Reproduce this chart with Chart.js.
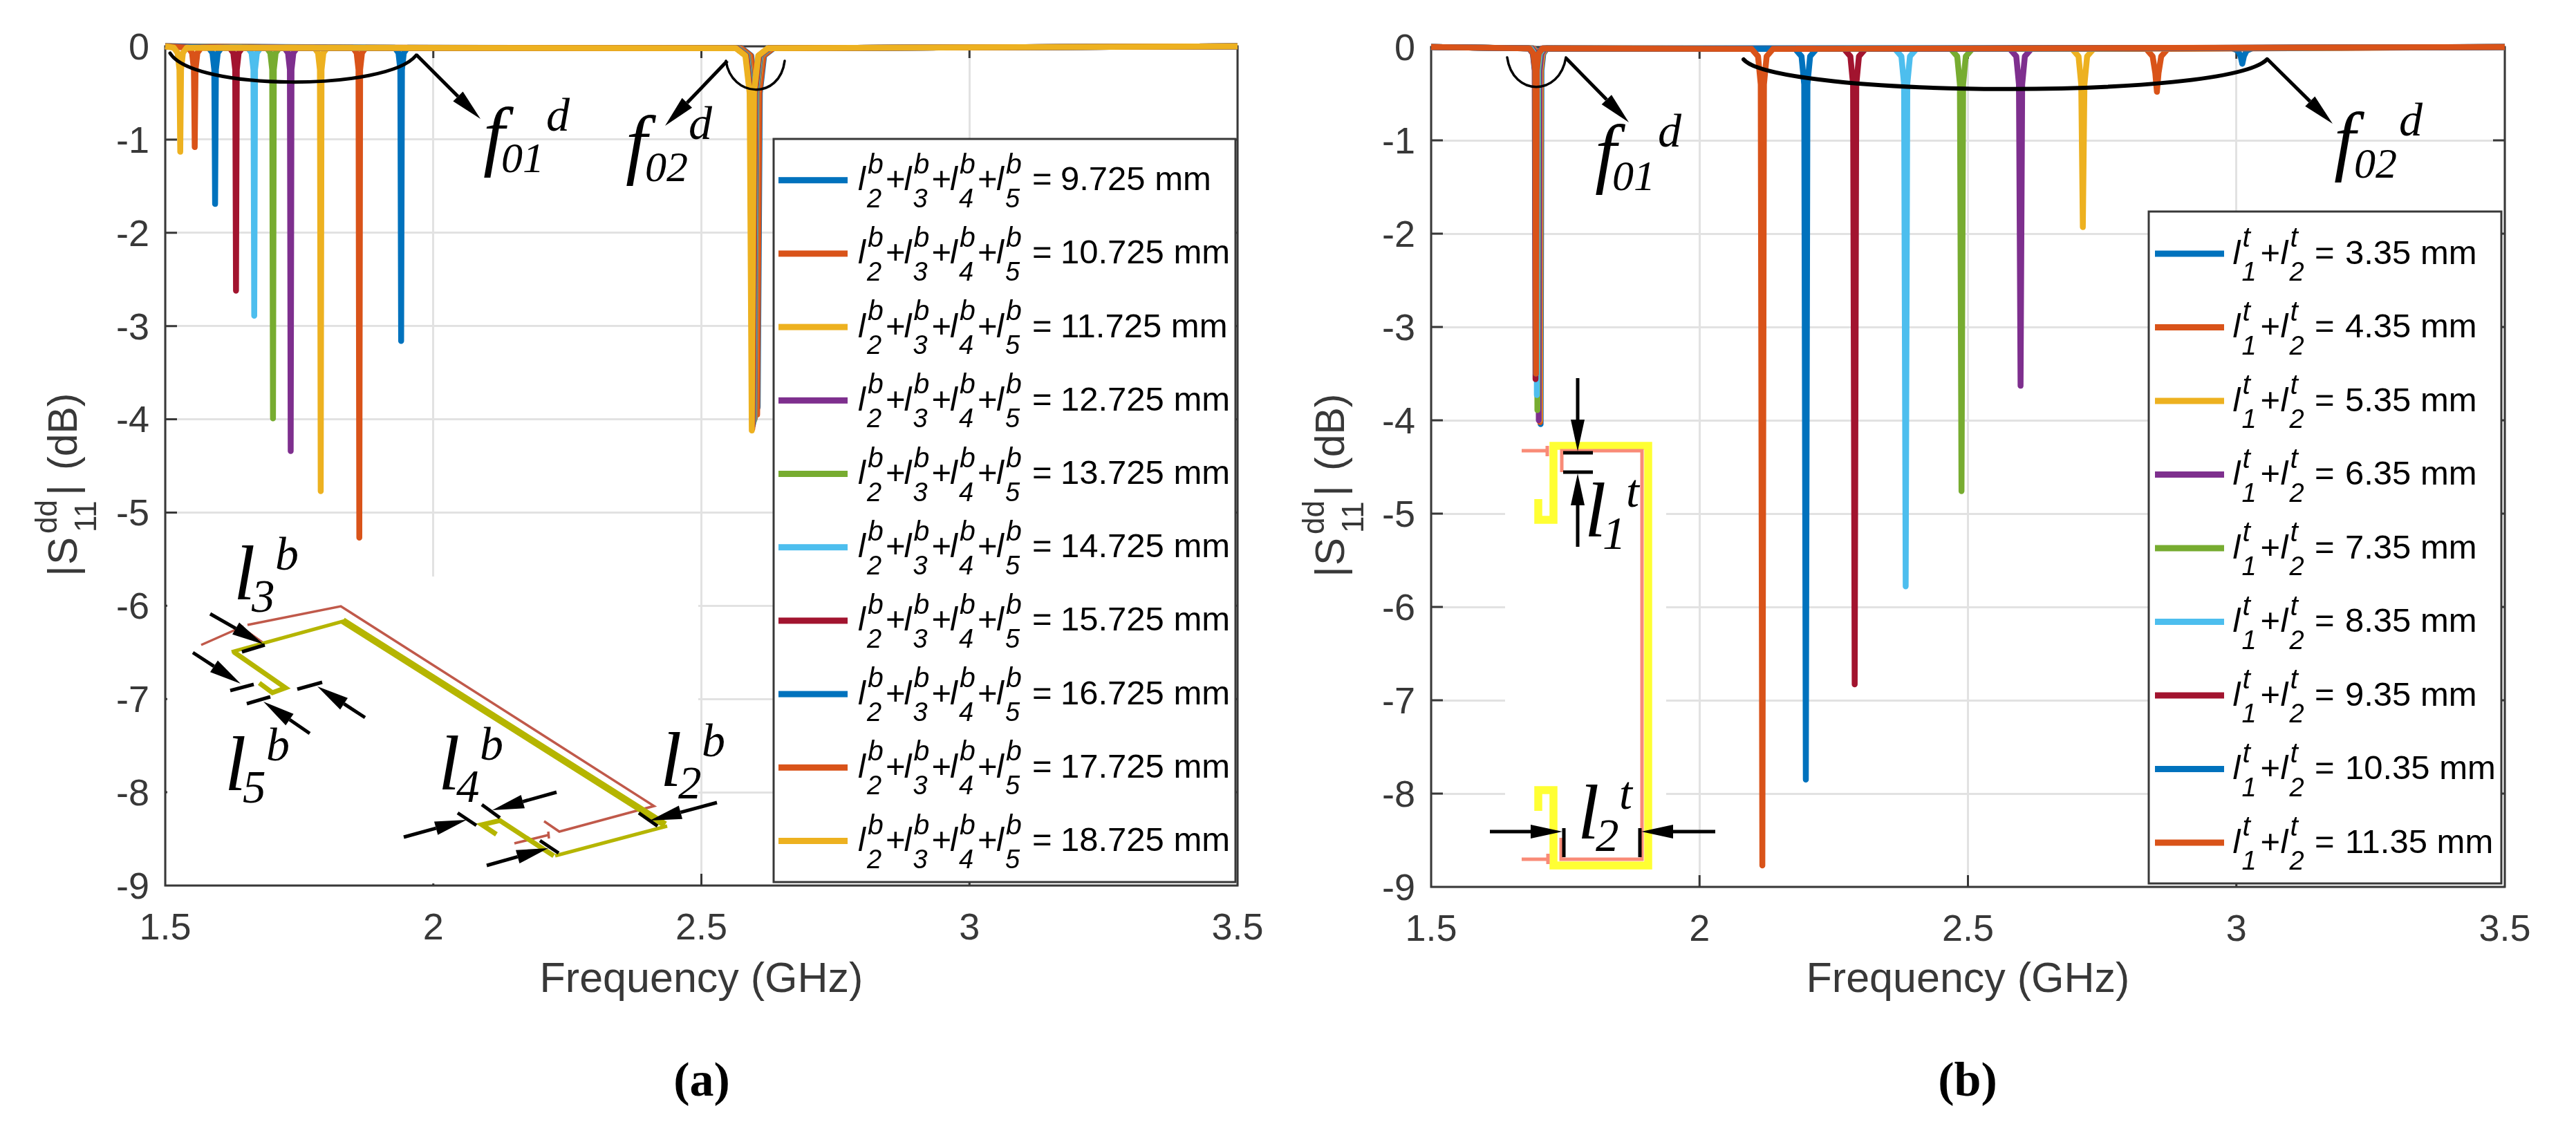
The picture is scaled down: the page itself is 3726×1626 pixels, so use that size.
<!DOCTYPE html>
<html>
<head>
<meta charset="utf-8">
<title>S11 differential mode</title>
<script src="https://cdn.jsdelivr.net/npm/chart.js@4"></script>
<style>
  html, body { margin: 0; padding: 0; background: #fff; }
  #page { position: relative; width: 3726px; height: 1626px; overflow: hidden; }
  canvas { position: absolute; top: 0; }
  #over { position: absolute; left: 0; top: 0; }
</style>
</head>
<body>
<div id="page">
  <canvas id="graficaA" width="1863" height="1626" style="left:0"></canvas>
  <canvas id="graficaB" width="1863" height="1626" style="left:1863px"></canvas>
  <svg id="over" width="3726" height="1626" xmlns="http://www.w3.org/2000/svg"></svg>
</div>
<script>
const xTickLabels = ['1.5', '2', '2.5', '3', '3.5'];
const yTickLabels = ['0', '-1', '-2', '-3', '-4', '-5', '-6', '-7', '-8', '-9'];
const seriesColors = ['#0072BD', '#D95319', '#EDB120', '#7E2F8E', '#77AC30', '#4DBEEE', '#A2142F', '#0072BD', '#D95319', '#EDB120'];

// panel (a): l2+l3+l4+l5 sweep
const legendA = ['9.725', '10.725', '11.725', '12.725', '13.725', '14.725', '15.725', '16.725', '17.725', '18.725'];
const a1Freq = [1.5, 1.928, 1.935, 1.9385, 1.94, 1.9415, 1.945, 1.952, 2.575, 2.593, 2.601, 2.605, 2.609, 2.617, 2.635, 3.5];
const a1Db = [0, -0.015, -0.07, -0.25, -3.16, -0.25, -0.07, -0.015, -0.02, -0.1, -0.5, -3.87, -0.5, -0.1, -0.02, 0];
const a2Freq = [1.5, 1.85, 1.857, 1.8605, 1.862, 1.8635, 1.867, 1.874, 2.574, 2.592, 2.6, 2.604, 2.608, 2.616, 2.634, 3.5];
const a2Db = [0, -0.015, -0.07, -0.25, -5.27, -0.25, -0.07, -0.015, -0.02, -0.1, -0.5, -3.95, -0.5, -0.1, -0.02, 0];
const a3Freq = [1.5, 1.778, 1.785, 1.7885, 1.79, 1.7915, 1.795, 1.802, 2.57, 2.588, 2.596, 2.6, 2.604, 2.612, 2.63, 3.5];
const a3Db = [0, -0.015, -0.07, -0.25, -4.77, -0.25, -0.07, -0.015, -0.02, -0.1, -0.5, -3.98, -0.5, -0.1, -0.02, 0];
const a4Freq = [1.5, 1.722, 1.729, 1.7325, 1.734, 1.7355, 1.739, 1.746, 2.569, 2.587, 2.595, 2.599, 2.603, 2.611, 2.629, 3.5];
const a4Db = [0, -0.015, -0.07, -0.25, -4.34, -0.25, -0.07, -0.015, -0.02, -0.1, -0.5, -4.0, -0.5, -0.1, -0.02, 0];
const a5Freq = [1.5, 1.689, 1.696, 1.6995, 1.701, 1.7025, 1.706, 1.713, 2.568, 2.586, 2.594, 2.598, 2.602, 2.61, 2.628, 3.5];
const a5Db = [0, -0.015, -0.07, -0.25, -3.99, -0.25, -0.07, -0.015, -0.02, -0.1, -0.5, -4.02, -0.5, -0.1, -0.02, 0];
const a6Freq = [1.5, 1.654, 1.661, 1.6645, 1.666, 1.6675, 1.671, 1.678, 2.567, 2.585, 2.593, 2.597, 2.601, 2.609, 2.627, 3.5];
const a6Db = [0, -0.015, -0.07, -0.25, -2.89, -0.25, -0.07, -0.015, -0.02, -0.1, -0.5, -4.04, -0.5, -0.1, -0.02, 0];
const a7Freq = [1.5, 1.62, 1.627, 1.6305, 1.632, 1.6335, 1.637, 1.644, 2.566, 2.584, 2.592, 2.596, 2.6, 2.608, 2.626, 3.5];
const a7Db = [0, -0.015, -0.07, -0.25, -2.62, -0.25, -0.07, -0.015, -0.02, -0.1, -0.5, -4.06, -0.5, -0.1, -0.02, 0];
const a8Freq = [1.5, 1.581, 1.588, 1.5915, 1.593, 1.5945, 1.598, 1.605, 2.565, 2.583, 2.591, 2.595, 2.599, 2.607, 2.625, 3.5];
const a8Db = [0, -0.015, -0.07, -0.25, -1.69, -0.25, -0.07, -0.015, -0.02, -0.1, -0.5, -4.08, -0.5, -0.1, -0.02, 0];
const a9Freq = [1.5, 1.543, 1.55, 1.5535, 1.555, 1.5565, 1.56, 1.567, 2.565, 2.583, 2.591, 2.595, 2.599, 2.607, 2.625, 3.5];
const a9Db = [0, -0.015, -0.07, -0.25, -1.08, -0.25, -0.07, -0.015, -0.02, -0.1, -0.5, -4.1, -0.5, -0.1, -0.02, 0];
const a10Freq = [1.5, 1.516, 1.523, 1.5265, 1.528, 1.5295, 1.533, 1.54, 2.564, 2.582, 2.59, 2.594, 2.598, 2.606, 2.624, 3.5];
const a10Db = [0, -0.015, -0.07, -0.25, -1.13, -0.25, -0.07, -0.015, -0.02, -0.1, -0.5, -4.12, -0.5, -0.1, -0.02, 0];

// panel (b): l1+l2 sweep
const legendB = ['3.35', '4.35', '5.35', '6.35', '7.35', '8.35', '9.35', '10.35', '11.35'];
const b1Freq = [1.5, 1.692, 1.699, 1.7025, 1.704, 1.7055, 1.709, 1.716, 2.991, 3.003, 3.008, 3.011, 3.014, 3.019, 3.031, 3.5];
const b1Db = [0, -0.015, -0.07, -0.25, -4.04, -0.25, -0.07, -0.015, -0.01, -0.04, -0.1, -0.18, -0.1, -0.04, -0.01, 0];
const b2Freq = [1.5, 1.691, 1.698, 1.7015, 1.703, 1.7045, 1.708, 1.715, 2.832, 2.844, 2.849, 2.852, 2.855, 2.86, 2.872, 3.5];
const b2Db = [0, -0.015, -0.07, -0.25, -4.02, -0.25, -0.07, -0.015, -0.02, -0.1, -0.28, -0.48, -0.28, -0.1, -0.02, 0];
const b3Freq = [1.5, 1.69, 1.697, 1.7005, 1.702, 1.7035, 1.707, 1.714, 2.694, 2.706, 2.711, 2.714, 2.717, 2.722, 2.734, 3.5];
const b3Db = [0, -0.015, -0.07, -0.25, -4.0, -0.25, -0.07, -0.015, -0.02, -0.1, -0.4, -1.93, -0.4, -0.1, -0.02, 0];
const b4Freq = [1.5, 1.6886, 1.6956, 1.6991, 1.7006, 1.7021, 1.7056, 1.7126, 2.578, 2.59, 2.595, 2.598, 2.601, 2.606, 2.618, 3.5];
const b4Db = [0, -0.015, -0.07, -0.25, -4.0, -0.25, -0.07, -0.015, -0.02, -0.1, -0.4, -3.63, -0.4, -0.1, -0.02, 0];
const b5Freq = [1.5, 1.686, 1.693, 1.6965, 1.698, 1.6995, 1.703, 1.71, 2.468, 2.48, 2.485, 2.488, 2.491, 2.496, 2.508, 3.5];
const b5Db = [0, -0.015, -0.07, -0.25, -3.89, -0.25, -0.07, -0.015, -0.02, -0.1, -0.4, -4.76, -0.4, -0.1, -0.02, 0];
const b6Freq = [1.5, 1.685, 1.692, 1.6955, 1.697, 1.6985, 1.702, 1.709, 2.364, 2.376, 2.381, 2.384, 2.387, 2.392, 2.404, 3.5];
const b6Db = [0, -0.015, -0.07, -0.25, -3.73, -0.25, -0.07, -0.015, -0.02, -0.1, -0.4, -5.78, -0.4, -0.1, -0.02, 0];
const b7Freq = [1.5, 1.6825, 1.6895, 1.693, 1.6945, 1.696, 1.6995, 1.7065, 2.269, 2.281, 2.286, 2.289, 2.292, 2.297, 2.309, 3.5];
const b7Db = [0, -0.015, -0.07, -0.25, -3.56, -0.25, -0.07, -0.015, -0.02, -0.1, -0.4, -6.83, -0.4, -0.1, -0.02, 0];
const b8Freq = [1.5, 1.683, 1.69, 1.6935, 1.695, 1.6965, 1.7, 1.707, 2.178, 2.19, 2.195, 2.198, 2.201, 2.206, 2.218, 3.5];
const b8Db = [0, -0.015, -0.07, -0.25, -3.5, -0.25, -0.07, -0.015, -0.02, -0.1, -0.4, -7.85, -0.4, -0.1, -0.02, 0];
const b9Freq = [1.5, 1.6834, 1.6904, 1.6939, 1.6954, 1.6969, 1.7004, 1.7074, 2.097, 2.109, 2.114, 2.117, 2.12, 2.125, 2.137, 3.5];
const b9Db = [0, -0.015, -0.07, -0.25, -3.5, -0.25, -0.07, -0.015, -0.02, -0.1, -0.4, -8.77, -0.4, -0.1, -0.02, 0];

const freqsA = [a1Freq, a2Freq, a3Freq, a4Freq, a5Freq, a6Freq, a7Freq, a8Freq, a9Freq, a10Freq];
const valuesA = [a1Db, a2Db, a3Db, a4Db, a5Db, a6Db, a7Db, a8Db, a9Db, a10Db];
const freqsB = [b1Freq, b2Freq, b3Freq, b4Freq, b5Freq, b6Freq, b7Freq, b8Freq, b9Freq];
const valuesB = [b1Db, b2Db, b3Db, b4Db, b5Db, b6Db, b7Db, b8Db, b9Db];

const INK = '#383838';

// inward ticks and the box, like a MATLAB axes
const boxPlugin = {
  id: 'box',
  beforeDatasetsDraw(chart) {
    const ctx = chart.ctx, a = chart.chartArea, sx = chart.scales.x, sy = chart.scales.y;
    const len = 17;
    ctx.save();
    ctx.strokeStyle = INK;
    ctx.lineWidth = 3;
    ctx.beginPath();
    ctx.rect(a.left, a.top, a.right - a.left, a.bottom - a.top);
    sx.ticks.forEach(t => {
      const p = sx.getPixelForValue(t.value);
      ctx.moveTo(p, a.bottom); ctx.lineTo(p, a.bottom - len);
      ctx.moveTo(p, a.top); ctx.lineTo(p, a.top + len);
    });
    sy.ticks.forEach(t => {
      const p = sy.getPixelForValue(t.value);
      ctx.moveTo(a.left, p); ctx.lineTo(a.left + len, p);
      ctx.moveTo(a.right, p); ctx.lineTo(a.right - len, p);
    });
    ctx.stroke();
    ctx.restore();
  }
};

function crearGrafica(id, labels, freqs, values, yWidth, axisHeight, padTop, padRight) {
  const datasets = freqs.map((f, i) => ({
    label: labels[i] + ' mm',
    data: f.map((x, k) => ({ x: x, y: values[i][k] })),
    borderColor: seriesColors[i],
    borderWidth: 8.5,
    borderJoinStyle: 'round',
    pointRadius: 0,
    clip: false,
    order: freqs.length - i
  }));
  return new Chart(document.getElementById(id), {
    type: 'line',
    data: { datasets: datasets },
    plugins: [boxPlugin],
    options: {
      responsive: false,
      animation: false,
      devicePixelRatio: 1,
      layout: { padding: { top: padTop, right: padRight, bottom: 0, left: 0 } },
      plugins: { legend: { display: false }, tooltip: { enabled: false } },
      scales: {
        x: {
          type: 'linear', min: 1.5, max: 3.5,
          afterFit: s => { s.height = axisHeight; },
          grid: { color: '#e2e2e2', lineWidth: 3, drawTicks: false },
          border: { display: false },
          ticks: {
            stepSize: 0.5, padding: 31, maxRotation: 0, color: INK,
            font: { family: 'Liberation Sans', size: 54 },
            callback: (v, i) => xTickLabels[i]
          },
          title: {
            display: true, text: 'Frequency (GHz)', color: INK,
            font: { family: 'Liberation Sans', size: 61 },
            padding: { top: 0, bottom: 171 }
          }
        },
        y: {
          type: 'linear', min: -9, max: 0,
          afterFit: s => { s.width = yWidth; },
          grid: { color: '#e2e2e2', lineWidth: 3, drawTicks: false },
          border: { display: false },
          ticks: {
            stepSize: 1, padding: 23, color: INK,
            // empty first line + tight line height: labels sit a few px under the tick
            font: { family: 'Liberation Sans', size: 54, lineHeight: '8px' },
            callback: (v, i) => ['', yTickLabels[yTickLabels.length - 1 - i]]
          }
        }
      }
    }
  });
}

crearGrafica('graficaA', legendA, freqsA, valuesA, 239, 345, 67, 73);
crearGrafica('graficaB', legendB, freqsB, valuesB, 207, 343, 68, 103);

// overlay: annotations, insets and the legends with sub/superscripts
const svg = document.getElementById('over');
const NS = 'http://www.w3.org/2000/svg';
const SERIF = 'Liberation Serif', SANS = 'Liberation Sans';

function add(tag, attrs) {
  const el = document.createElementNS(NS, tag);
  for (const k in attrs) el.setAttribute(k, attrs[k]);
  svg.appendChild(el);
  return el;
}
function txt(x, y, s, size, family, italic, fill, extra) {
  const el = add('text', Object.assign({
    x: x, y: y, 'font-size': size, 'font-family': family,
    'font-style': italic ? 'italic' : 'normal', fill: fill || '#000'
  }, extra || {}));
  el.textContent = s;
  return el;
}
function rect(x, y, w, h) { add('rect', { x: x, y: y, width: w, height: h, fill: '#fff' }); }
function poly(points, color, width) {
  add('polyline', { points: points.join(' '), fill: 'none', stroke: color, 'stroke-width': width, 'stroke-linejoin': 'miter', 'stroke-linecap': 'butt' });
}
function curve(d, width) { add('path', { d: d, fill: 'none', stroke: '#000', 'stroke-width': width, 'stroke-linecap': 'round' }); }
function arrow(x1, y1, x2, y2, w) {
  const len = Math.hypot(x2 - x1, y2 - y1), ux = (x2 - x1) / len, uy = (y2 - y1) / len;
  const hl = 46, hw = 10;
  const bx = x2 - ux * hl, by = y2 - uy * hl;
  poly([x1, y1, bx, by], '#000', w);
  add('polygon', { points: [x2, y2, bx - uy * hw, by + ux * hw, bx + uy * hw, by - ux * hw].join(' '), fill: '#000' });
}
function fLabel(fx, fy, sub, subx, suby, dx, dy) {
  txt(fx, fy, 'f', 112, SERIF, true);
  txt(subx, suby, sub, 62, SERIF, true);
  txt(dx, dy, 'd', 68, SERIF, true);
}
function lLabel(L, B, sub, sup) {
  txt(L, B, 'l', 112, SERIF, true);
  txt(L + 26, B + 18, sub, 67, SERIF, true);
  txt(L + 60, B - 43, sup, 68, SERIF, true);
}
function yTitle(dx, dy) {
  const rot = (x, y, s, size, anchor) => txt(x + dx, y + dy, s, size, SANS, false, INK, {
    transform: 'rotate(-90 ' + (x + dx) + ' ' + (y + dy) + ')', 'text-anchor': anchor || 'start'
  });
  rot(111, 826, '|', 60, 'middle');
  rot(111, 817, 'S', 60);
  rot(82, 772, 'dd', 44);
  rot(139, 770, '11', 44);
  rot(111, 709, '|', 60, 'middle');
  rot(111, 680, '(dB)', 59);
}
function legendBox(x, y, w, h) {
  add('rect', { x: x, y: y, width: w, height: h, fill: '#fff', stroke: INK, 'stroke-width': 3 });
}
function legendRow(swX, swW, y, color, lXs, subs, sup, eqX, numX, value) {
  add('rect', { x: swX, y: y - 4.5, width: swW, height: 9, fill: color });
  lXs.forEach((lx, i) => {
    txt(lx, y + 14.5, 'l', 49, SANS, true);
    txt(lx + 14, y - 10, sup, 41, SANS, true);
    txt(lx + 13, y + 39, subs[i], 38, SANS, true);
    if (i < lXs.length - 1) txt(lx + 40, y + 14.5, '+', 49, SANS, false);
  });
  txt(eqX, y + 14.5, '=', 49, SANS, false);
  txt(numX, y + 14.5, value + ' mm', 49, SANS, false);
}

// blank areas behind the pasted-in sketches
rect(242, 834, 768, 444);
rect(2177, 620, 233, 658);

// panel (a)
curve('M246 77 C 280 132, 560 132, 602 80', 5);
arrow(602, 79, 695, 172, 5);
curve('M1050 88 C 1058 142, 1128 145, 1135 88', 3.5);
arrow(1052, 88, 962, 182, 5);
fLabel(699, 233, '01', 725, 249, 790, 189);
fLabel(905, 245, '02', 933, 262, 996, 201);

const RED = '#C0594A', OLIVE = '#B5B500';
poly([291, 933, 352, 906], RED, 3.5);
poly([358, 914, 382, 931], RED, 3.5);
poly([358, 904, 493, 877, 946, 1166, 809, 1203, 787, 1188], RED, 3.5);
poly([744, 1220, 793, 1208], RED, 3.5);
poly([793, 1203, 794, 1213], RED, 3.5);
poly([335, 943, 499, 898], OLIVE, 5);
poly([338, 943, 413, 995, 394, 1002, 375, 988], OLIVE, 7);
poly([496, 898, 962, 1193], OLIVE, 10);
poly([965, 1195, 803, 1238], OLIVE, 5);
poly([801, 1238, 723, 1187, 697, 1193, 718, 1207], OLIVE, 7);

poly([350, 943, 383, 933], '#000', 5);
arrow(304, 888, 381, 932, 5);
poly([333, 999, 367, 990], '#000', 5);
arrow(279, 944, 348, 989, 5);
poly([357, 1018, 391, 1008], '#000', 5);
arrow(448, 1061, 381, 1015, 5);
poly([430, 997, 466, 987], '#000', 5);
arrow(528, 1038, 459, 993, 5);
poly([662, 1176, 689, 1194], '#000', 5);
arrow(584, 1211, 675, 1186, 5);
poly([697, 1164, 723, 1183], '#000', 5);
arrow(805, 1146, 712, 1172, 5);
poly([781, 1216, 808, 1234], '#000', 5);
arrow(704, 1252, 793, 1227, 5);
poly([924, 1176, 951, 1195], '#000', 5);
arrow(1037, 1161, 940, 1187, 5);

lLabel(338, 867, '3', 'b');
lLabel(325, 1143, '5', 'b');
lLabel(634, 1142, '4', 'b');
lLabel(955, 1137, '2', 'b');

yTitle(0, 0);
txt(1015, 1585, '(a)', 70, SERIF, false, '#000', { 'text-anchor': 'middle', 'font-weight': 'bold' });

legendBox(1119, 201, 668, 1075);
legendA.forEach((v, i) => {
  legendRow(1126, 100, 260.7 + i * 106.2, seriesColors[i], [1241, 1307.5, 1374, 1441], ['2', '3', '4', '5'], 'b', 1493, 1534, v);
});

// panel (b)
curve('M2180 83 C 2188 140, 2256 140, 2265 83', 3.5);
arrow(2265, 84, 2356, 177, 5);
curve('M2522 86 C 2570 141, 3220 145, 3279 86', 6);
arrow(3279, 85, 3374, 179, 5);
fLabel(2307, 258, '01', 2332, 275, 2398, 212);
fLabel(3376, 240, '02', 3405, 257, 3470, 196);

const YEL = '#FFFF33', SAL = '#F98B77';
poly([2225, 722, 2225, 752, 2247, 752, 2247, 645, 2384, 645, 2384, 1252, 2247, 1252, 2247, 1143, 2225, 1143, 2225, 1173], YEL, 11.5);
poly([2201, 652, 2238, 652], SAL, 5);
poly([2238, 645, 2238, 660], SAL, 5);
poly([2259, 683, 2259, 652, 2375, 652, 2375, 1243, 2258, 1243, 2258, 1212], SAL, 5);
poly([2201, 1243, 2239, 1243], SAL, 5);
poly([2239, 1235, 2239, 1250], SAL, 5);

poly([2261, 655, 2304, 655], '#000', 5);
poly([2261, 683, 2304, 683], '#000', 5);
arrow(2282, 547, 2282, 653, 5);
arrow(2282, 791, 2282, 685, 5);
poly([2262, 1198, 2262, 1240], '#000', 5);
poly([2372, 1198, 2372, 1240], '#000', 5);
arrow(2155, 1203, 2260, 1203, 5);
arrow(2481, 1203, 2374, 1203, 5);

lLabel(2292, 776, '1', 't');
lLabel(2282, 1213, '2', 't');

yTitle(1833, 1);
txt(2846, 1585, '(b)', 70, SERIF, false, '#000', { 'text-anchor': 'middle', 'font-weight': 'bold' });

legendBox(3108, 306, 510, 972);
legendB.forEach((v, i) => {
  legendRow(3117, 100, 367 + i * 106.5, seriesColors[i], [3229.5, 3298.5], ['1', '2'], 't', 3348, 3392, v);
});
</script>
</body>
</html>
